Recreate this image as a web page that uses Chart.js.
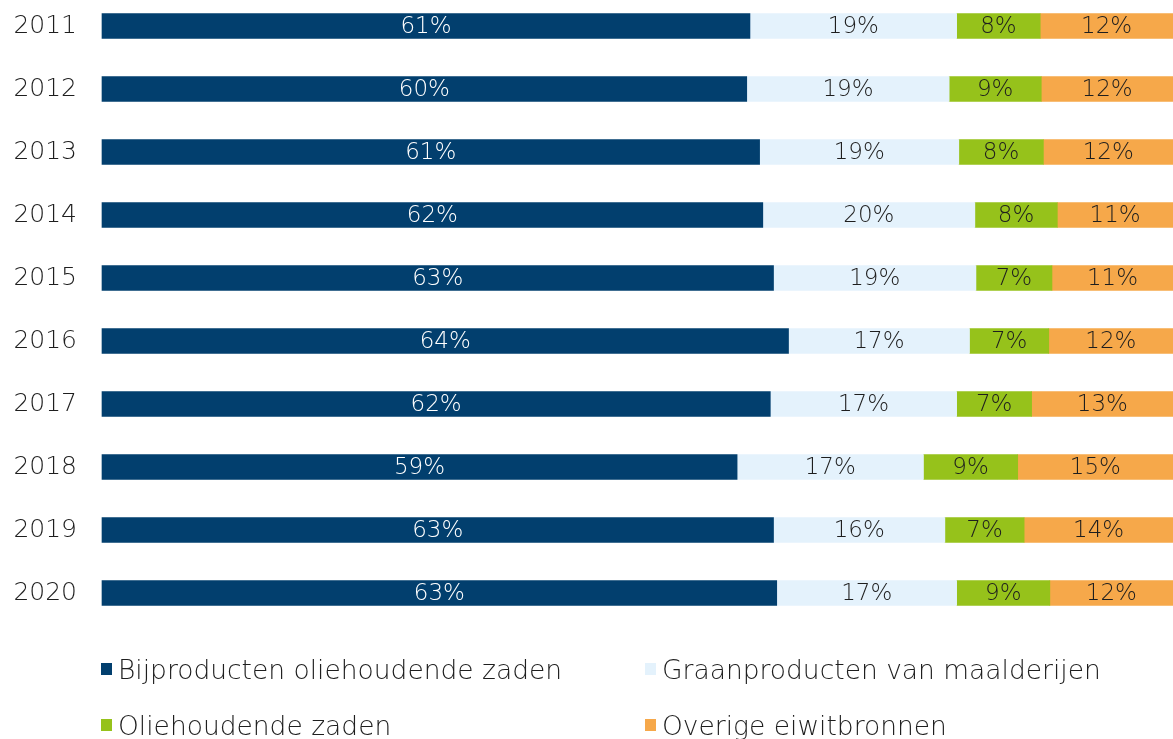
<!DOCTYPE html>
<html>
<head>
<meta charset="utf-8">
<script src="https://cdn.jsdelivr.net/npm/chart.js@4/dist/chart.umd.min.js"></script>
<style>
   body { margin: 0; background: #fff; }
   #wrap { position: relative; width: 1173px; height: 739px; }
   #legend {
      position: absolute; left: 101px; top: 655px;
      display: grid; grid-template-columns: 544px 500px; row-gap: 28px;
      font-family: 'DejaVu Sans', sans-serif; font-weight: 200; font-size: 26.5px; color: #1e1e1e;
   }
   #legend .item { display: flex; align-items: center; height: 28px; white-space: nowrap; }
   #legend .box { width: 11px; height: 12px; margin-right: 6px; }
</style>
</head>
<body>
<div id="wrap">
   <canvas id="chart" width="1173" height="739"></canvas>
   <div id="legend"></div>
</div>
<script>
const years = ['2011', '2012', '2013', '2014', '2015', '2016', '2017', '2018', '2019', '2020'];
const seriesNames = ['Bijproducten oliehoudende zaden', 'Graanproducten van maalderijen', 'Oliehoudende zaden', 'Overige eiwitbronnen'];
const bijproducten = [60.5, 60.2, 61.4, 61.7, 62.7, 64.1, 62.4, 59.3, 62.7, 63.0];
const graanproducten = [19.3, 18.9, 18.6, 19.8, 18.9, 16.9, 17.4, 17.4, 16.0, 16.8];
const oliezaden = [7.8, 8.6, 7.9, 7.7, 7.1, 7.4, 7.0, 8.8, 7.4, 8.7];
const overige = [12.4, 12.3, 12.1, 10.8, 11.3, 11.6, 13.2, 14.5, 13.9, 11.5];

const colors = ['#023f6e', '#e4f2fc', '#96c21b', '#f6a84a'];
const labelColors = ['#ffffff', '#1e1e1e', '#1e1e1e', '#1e1e1e'];
const fontFamily = "'DejaVu Sans', sans-serif";

// draws the rounded percentage in the middle of every segment
const barLabels = {
   id: 'barLabels',
   afterDatasetsDraw(chart) {
      const ctx = chart.ctx;
      ctx.save();
      ctx.font = '200 23px ' + fontFamily;
      ctx.textAlign = 'center';
      ctx.textBaseline = 'middle';
      chart.data.datasets.forEach((ds, i) => {
         chart.getDatasetMeta(i).data.forEach((bar, j) => {
            const p = bar.getCenterPoint();
            ctx.fillStyle = labelColors[i];
            ctx.fillText(Math.round(ds.data[j]) + '%', p.x, p.y + 1);
         });
      });
      ctx.restore();
   }
};

const allSeries = [bijproducten, graanproducten, oliezaden, overige];

new Chart(document.getElementById('chart'), {
   type: 'bar',
   data: {
      labels: years,
      datasets: allSeries.map((values, i) => ({
         label: seriesNames[i],
         data: values,
         backgroundColor: colors[i],
         borderWidth: 0,
         barThickness: 25,
         clip: false,
      })),
   },
   options: {
      indexAxis: 'y',
      responsive: false,
      animation: false,
      layout: { padding: { top: 26, bottom: 146, left: 0, right: 0 } },
      plugins: {
         legend: { display: false },
         tooltip: { enabled: false },
      },
      scales: {
         x: {
            stacked: true,
            min: 0,
            max: 100,
            display: false,
         },
         y: {
            stacked: true,
            offset: false,
            grid: { display: false },
            border: { display: false },
            afterFit: (scale) => {
               scale.width = 102;
               scale.paddingTop = 0;
               scale.paddingBottom = 0;
            },
            ticks: {
               padding: 17,
               color: '#1e1e1e',
               font: { family: fontFamily, size: 25, weight: '200' },
            },
         },
      },
   },
   plugins: [barLabels],
});

const legend = document.getElementById('legend');
seriesNames.forEach((name, i) => {
   const item = document.createElement('div');
   item.className = 'item';
   item.innerHTML = '<span class="box" style="background:' + colors[i] + '"></span><span>' + name + '</span>';
   legend.appendChild(item);
});
</script>
</body>
</html>
